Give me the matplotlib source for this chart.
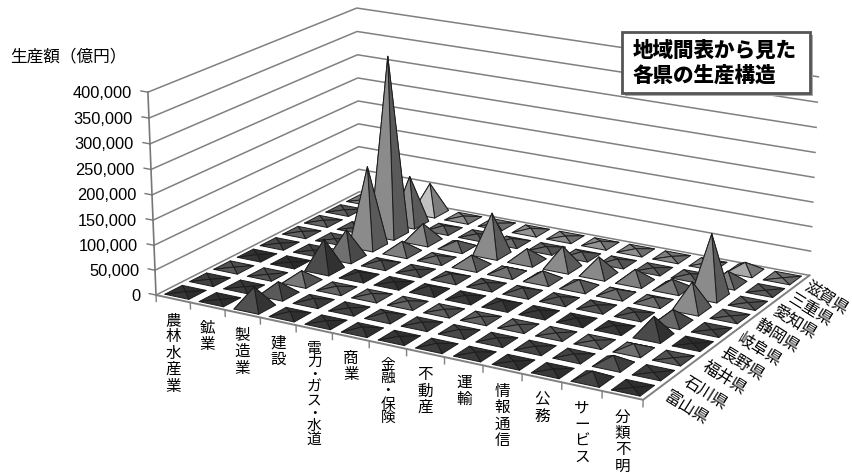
import numpy as np
import matplotlib
matplotlib.use("Agg")
import matplotlib.pyplot as plt
from matplotlib.patches import Rectangle
from mpl_toolkits.mplot3d.art3d import Poly3DCollection

industries = ["農林水産業", "鉱業", "製造業", "建設", "電力・ガス・水道", "商業", "金融・保険",
              "不動産", "運輸", "情報通信", "公務", "サービス", "分類不明"]
prefectures = ["富山県", "石川県", "福井県", "長野県", "岐阜県", "静岡県", "愛知県", "三重県", "滋賀県"]
toyama = [1000, 200, 40000, 6000, 3000, 6000, 3000, 5000, 3500, 2000, 3000, 15000, 500]
ishikawa = [1000, 100, 25000, 6000, 2000, 8000, 4000, 5000, 4000, 3000, 4000, 17000, 400]
fukui = [800, 100, 22000, 5000, 5000, 5000, 3000, 4000, 3000, 2000, 3000, 12000, 400]
nagano = [2000, 200, 62000, 9000, 3000, 10000, 5000, 9000, 5000, 4000, 5000, 38000, 600]
gifu = [1500, 300, 57000, 8000, 3000, 9000, 5000, 9000, 6000, 4000, 5000, 25000, 500]
shizuoka = [2500, 200, 165000, 23000, 7000, 22000, 12000, 18000, 15000, 10000, 9000, 54000, 900]
aichi = [2500, 300, 372000, 36000, 14000, 85000, 25000, 44000, 36000, 25000, 19000, 125000, 1500]
mie = [1500, 200, 100000, 8000, 4000, 8000, 5000, 8000, 7000, 3000, 5000, 25000, 500]
shiga = [800, 100, 62000, 5000, 3000, 6000, 3000, 6000, 4000, 2000, 3000, 18000, 400]
series_values = [toyama, ishikawa, fukui, nagano, gifu, shizuoka, aichi, mie, shiga]
series_greys = [0.30, 0.36, 0.50, 0.28, 0.42, 0.52, 0.52, 0.52, 0.72]
y_ticks = [0, 50000, 100000, 150000, 200000, 250000, 300000, 350000, 400000]

plt.rcParams['font.family'] = ['Noto Sans CJK JP', 'DejaVu Sans']
W, H = 852, 475
fig = plt.figure(figsize=(W / 100, H / 100), dpi=100, facecolor='white')
ax = fig.add_axes([0, 0, 1, 1], projection='3d', computed_zorder=False)
ax.set_axis_off()
ax.patch.set_visible(False)
ax.apply_aspect = lambda position=None: None

nx, ny, zmax = len(industries), len(prefectures), y_ticks[-1]
# camera calibration: chart frame corners -> pixel positions on the reference
world = np.array([[0, 0, 0], [nx, 0, 0], [nx, ny, 0], [0, ny, 0],
                  [0, 0, zmax], [0, ny, zmax], [nx, ny, zmax]], float)
pixel = np.array([[157, 295], [643, 400], [810, 275], [358, 192],
                  [147, 92], [358, 8], [818, 77]], float)
scale = np.array([1, 1, 1 / 1e5])
rows = []
for (X, Y, Z), (u, v) in zip(world * scale, pixel):
    rows.append([X, Y, Z, 1, 0, 0, 0, 0, -u * X, -u * Y, -u * Z, -u])
    rows.append([0, 0, 0, 0, X, Y, Z, 1, -v * X, -v * Y, -v * Z, -v])
P = np.linalg.svd(np.array(rows))[2][-1].reshape(3, 4)
P = P @ np.diag([scale[0], scale[1], scale[2], 1.0])
if P[2, 3] < 0:
    P = -P
P = P / P[2, 3]
cam = np.linalg.svd(P)[2][-1]
cam = cam[:3] / cam[3]


def proj_matrix():
    A = ax.transData.get_affine().get_matrix()
    s = fig.dpi / 100
    to_disp = np.array([[s, 0, 0], [0, -s, H * s], [0, 0, 1]], float)
    Q = np.linalg.inv(A) @ to_disp @ P
    return np.vstack([Q[0], Q[1], [0, 0, 0, -1], Q[2]])


ax.get_proj = proj_matrix


def label_at(x, y, z, dx, dy, s, **kw):
    """Text anchored at a projected chart position plus a pixel offset."""
    q = P @ np.array([x, y, z, 1.0])
    fig.text((q[0] / q[2] + dx) / W, 1 - (q[1] / q[2] + dy) / H, s, zorder=8, color='#000000', **kw)


# walls and axes
wall_c = '#808080'
for v in y_ticks:
    ax.plot([0, 0, nx], [0, ny, ny], [v, v, v], color=wall_c, lw=1.1, zorder=1, clip_on=False)
ax.plot([0, nx, nx], [0, 0, ny], [0, 0, 0], color=wall_c, lw=1.4, zorder=1, clip_on=False)
ax.plot([0, 0], [0, 0], [0, zmax], color='#777777', lw=1.2, zorder=1, clip_on=False)
for v in y_ticks:
    ax.plot([0, -0.2], [0, 0], [v, v], color='#777777', lw=1.0, zorder=1, clip_on=False)
    label_at(0, 0, v, -16, 1, f"{v:,}", ha='right', va='center', fontsize=11.8, family='Liberation Sans')
for i in range(nx + 1):
    ax.plot([i, i], [0, 0], [0, -13000], color=wall_c, lw=1.0, zorder=1, clip_on=False)

# pyramids, far to near
half = 0.35
cells = [(i, j) for j in range(ny) for i in range(nx)]
cells.sort(key=lambda c: -np.hypot(c[0] + .5 - cam[0], c[1] + .5 - cam[1]))
for order, (i, j) in enumerate(cells):
    v = series_values[j][i]
    cx, cy = i + .5, j + .5
    x0, x1, y0, y1 = cx - half, cx + half, cy - half, cy + half
    apex = (cx, cy, v)
    faces = [[(x0, y0, 0), (x1, y0, 0), apex], [(x1, y0, 0), (x1, y1, 0), apex],
             [(x1, y1, 0), (x0, y1, 0), apex], [(x0, y1, 0), (x0, y0, 0), apex]]
    k = min(v / 40000, 1.0) ** 0.5
    g = series_greys[j] * (0.62 + 0.38 * k)
    shades = [min(g * 1.05, 1), g * (0.88 - 0.20 * k), g * (0.92 - 0.10 * k), g * 0.97]
    pc = Poly3DCollection(faces, facecolors=[(s, s, s) for s in shades],
                          edgecolors='#1c1c1c', linewidths=0.7, zorder=10 + order, clip_on=False)
    ax.add_collection3d(pc)

# category labels
for i, name in enumerate(industries):
    dots = name.count("・")
    size = 10.6 if dots else 11.2
    spacing = {0: 0.96, 1: 0.93, 2: 0.9}[dots]
    label_at(i + .5, 0, 0, 0, 13, "\n".join(name), ha='center', va='top', fontsize=size, linespacing=spacing)
for j, name in enumerate(prefectures):
    label_at(nx, j + .5, 0, 12 - j, 3, name, ha='left', va='center', rotation=-32,
             rotation_mode='anchor', fontsize=11.7)

ax.set_xlim(0, nx)
ax.set_ylim(0, ny)
ax.set_zlim(0, zmax)

fig.text(10 / W, 1 - 57 / H, "生産額（億円）", fontsize=12, va='center', ha='left', color='#000000')

# title box
fig.add_artist(Rectangle((625 / W, 1 - 96 / H), 188 / W, 61 / H, transform=fig.transFigure,
                         facecolor='#aaaaaa', edgecolor='none', zorder=5))
fig.add_artist(Rectangle((622 / W, 1 - 93 / H), 188 / W, 61 / H, transform=fig.transFigure,
                         facecolor='white', edgecolor='#555555', lw=2, zorder=6))
fig.text(633 / W, 1 - 51 / H, "地域間表から見た", fontsize=14.8, fontweight='black', va='center', ha='left', zorder=7)
fig.text(633 / W, 1 - 76 / H, "各県の生産構造", fontsize=14.8, fontweight='black', va='center', ha='left', zorder=7)

fig.savefig("out.png", dpi=100)
